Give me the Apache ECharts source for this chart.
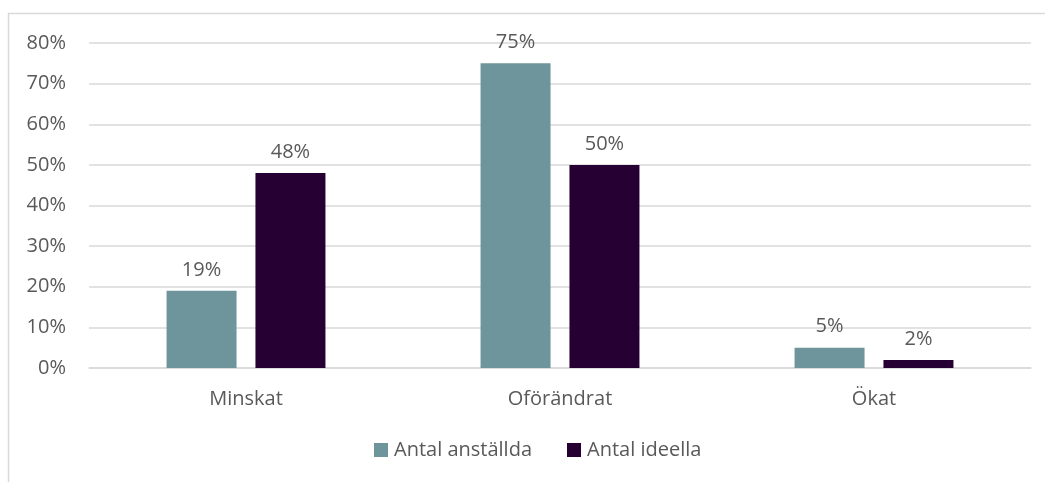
<!DOCTYPE html>
<html><head><meta charset="utf-8">
<script src="https://cdn.jsdelivr.net/npm/echarts@6/dist/echarts.min.js"></script>
<style>html,body{margin:0;padding:0;background:#fff}#c{width:1045px;height:482px}</style>
</head><body><div id="c"></div>
<script>
const categories = ['Minskat', 'Oförändrat', 'Ökat'];
const seriesNames = ['Antal anställda', 'Antal ideella'];
const anstallda = [19, 75, 5];
const ideella = [48, 50, 2];
const yTicks = [0, 10, 20, 30, 40, 50, 60, 70, 80];

const chart = echarts.init(document.getElementById('c'));
const font = '"Open Sans", "Liberation Sans", sans-serif';
const txt = '#595959';
const fs = 20;
const lbl = {show: true, position: 'top', distance: 11, formatter: p => p.value + '%', color: txt, fontSize: fs, fontFamily: font};
chart.setOption({
  animation: false,
  graphic: [{type: 'rect', shape: {x: 8.5, y: 13.5, width: 1100, height: 500}, style: {fill: 'none', stroke: '#d9d9d9', lineWidth: 1.5}, silent: true}],
  grid: {left: 89, right: 14, top: 43, bottom: 114},
  legend: {bottom: 17, left: 369, itemWidth: 14, itemHeight: 14, itemGap: 35, icon: 'rect',
    textStyle: {color: txt, fontSize: fs, fontFamily: font, padding: [0, 0, 0, 1]}, data: seriesNames},
  xAxis: {type: 'category', data: categories, axisTick: {show: false},
    axisLine: {lineStyle: {color: '#d9d9d9', width: 1.5}},
    axisLabel: {color: txt, fontSize: fs, fontFamily: font, margin: 21}},
  yAxis: {type: 'value', min: yTicks[0], max: yTicks[yTicks.length - 1], interval: 10,
    axisLabel: {formatter: v => v + '%', color: txt, fontSize: fs, fontFamily: font, margin: 23},
    splitLine: {lineStyle: {color: '#d9d9d9', width: 1.5}}, axisLine: {show: false}, axisTick: {show: false}},
  series: [
    {name: seriesNames[0], type: 'bar', data: anstallda, barWidth: 70, barGap: '27%', itemStyle: {color: '#6E959B'}, label: lbl},
    {name: seriesNames[1], type: 'bar', data: ideella, barWidth: 70, itemStyle: {color: '#270033'}, label: lbl}
  ]
});
</script></body></html>
